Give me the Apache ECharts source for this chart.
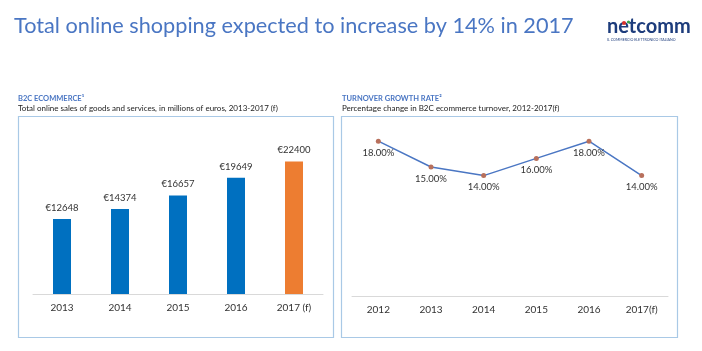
<!DOCTYPE html>
<html><head><meta charset="utf-8">
<script src="https://cdn.jsdelivr.net/npm/echarts@6/dist/echarts.min.js"></script>
<style>html,body{margin:0;padding:0;background:#fff}#c{width:702px;height:351px}</style>
</head><body><div id="c"></div>
<script>
const salesYears = ['2013','2014','2015','2016','2017 (f)'];
const salesValues = [12648, 14374, 16657, 19649, 22400];
const growthYears = ['2012','2013','2014','2015','2016','2017(f)'];
const growthValues = [18, 15, 14, 16, 18, 14];

const chart = echarts.init(document.getElementById('c'), null, {renderer:'canvas'});
const FONT = 'Lato, "Open Sans", sans-serif';
const boxColor = '#a9c9e6';
chart.setOption({
  animation:false,
  textStyle:{fontFamily:FONT},
  graphic:[
    {type:'text', left:14, top:15, style:{text:'Total online shopping expected to increase by 14% in 2017', fill:'#4a76c3', font:'21.7px '+FONT}},
    {type:'text', left:607, top:17, style:{text:'netcomm', fill:'#1d3c7c', font:'bold 20px '+FONT}},
    {type:'circle', shape:{cx:624, cy:23, r:2}, style:{fill:'#d9322b'}},
    {type:'circle', shape:{cx:628.5, cy:22, r:1.6}, style:{fill:'#3aa44a'}},
    {type:'text', left:607, top:38, style:{text:'IL COMMERCIO ELETTRONICO ITALIANO', fill:'#1d3c7c', font:'3.6px '+FONT}},
    {type:'text', left:18, top:95, style:{text:'B2C ECOMMERCE¹', fill:'#4a76c3', font:'bold 7.5px '+FONT}},
    {type:'text', left:18, top:104, style:{text:'Total online sales of goods and services, in millions of euros, 2013-2017 (f)', fill:'#222', font:'8px '+FONT}},
    {type:'text', left:342, top:95, style:{text:'TURNOVER GROWTH RATE²', fill:'#4a76c3', font:'bold 7.5px '+FONT}},
    {type:'text', left:342, top:104, style:{text:'Percentage change in B2C ecommerce turnover, 2012-2017(f)', fill:'#222', font:'8px '+FONT}},
    {type:'rect', shape:{x:18.5, y:116.5, width:315, height:221}, style:{fill:'none', stroke:boxColor, lineWidth:1.2}},
    {type:'rect', shape:{x:341.5, y:116.5, width:336, height:221}, style:{fill:'none', stroke:boxColor, lineWidth:1.2}}
  ],
  grid:[
    {left:33, right:379, top:146, bottom:57},
    {left:352, right:34, top:124, bottom:55}
  ],
  xAxis:[
    {gridIndex:0, type:'category', data:salesYears, axisLine:{lineStyle:{color:'#d9d9d9'}}, axisTick:{show:false},
     axisLabel:{color:'#333', fontSize:10, margin:9, fontFamily:FONT}},
    {gridIndex:1, type:'category', data:growthYears, axisLine:{lineStyle:{color:'#d9d9d9'}}, axisTick:{show:false},
     axisLabel:{color:'#333', fontSize:10, margin:9, fontFamily:FONT}}
  ],
  yAxis:[
    {gridIndex:0, type:'value', min:0, max:25000, show:false, splitLine:{show:false}},
    {gridIndex:1, type:'value', min:0, max:20, show:false, splitLine:{show:false}}
  ],
  series:[
    {type:'bar', xAxisIndex:0, yAxisIndex:0, barWidth:18,
     data:salesValues.map((v,i)=>({value:v, itemStyle:{color: i===salesValues.length-1 ? '#ed7d31' : '#0070c0'}})),
     label:{show:true, position:'top', distance:6, color:'#333', fontSize:9.5, fontFamily:FONT, formatter:p=>'€'+p.value}},
    {type:'line', xAxisIndex:1, yAxisIndex:1, data:growthValues,
     lineStyle:{color:'#4a76c3', width:1.5}, symbol:'circle', symbolSize:5, itemStyle:{color:'#b8705c'},
     label:{show:true, position:'bottom', distance:4, color:'#333', fontSize:9.5, fontFamily:FONT, formatter:p=>p.value.toFixed(2)+'%'}}
  ]
});
</script></body></html>
